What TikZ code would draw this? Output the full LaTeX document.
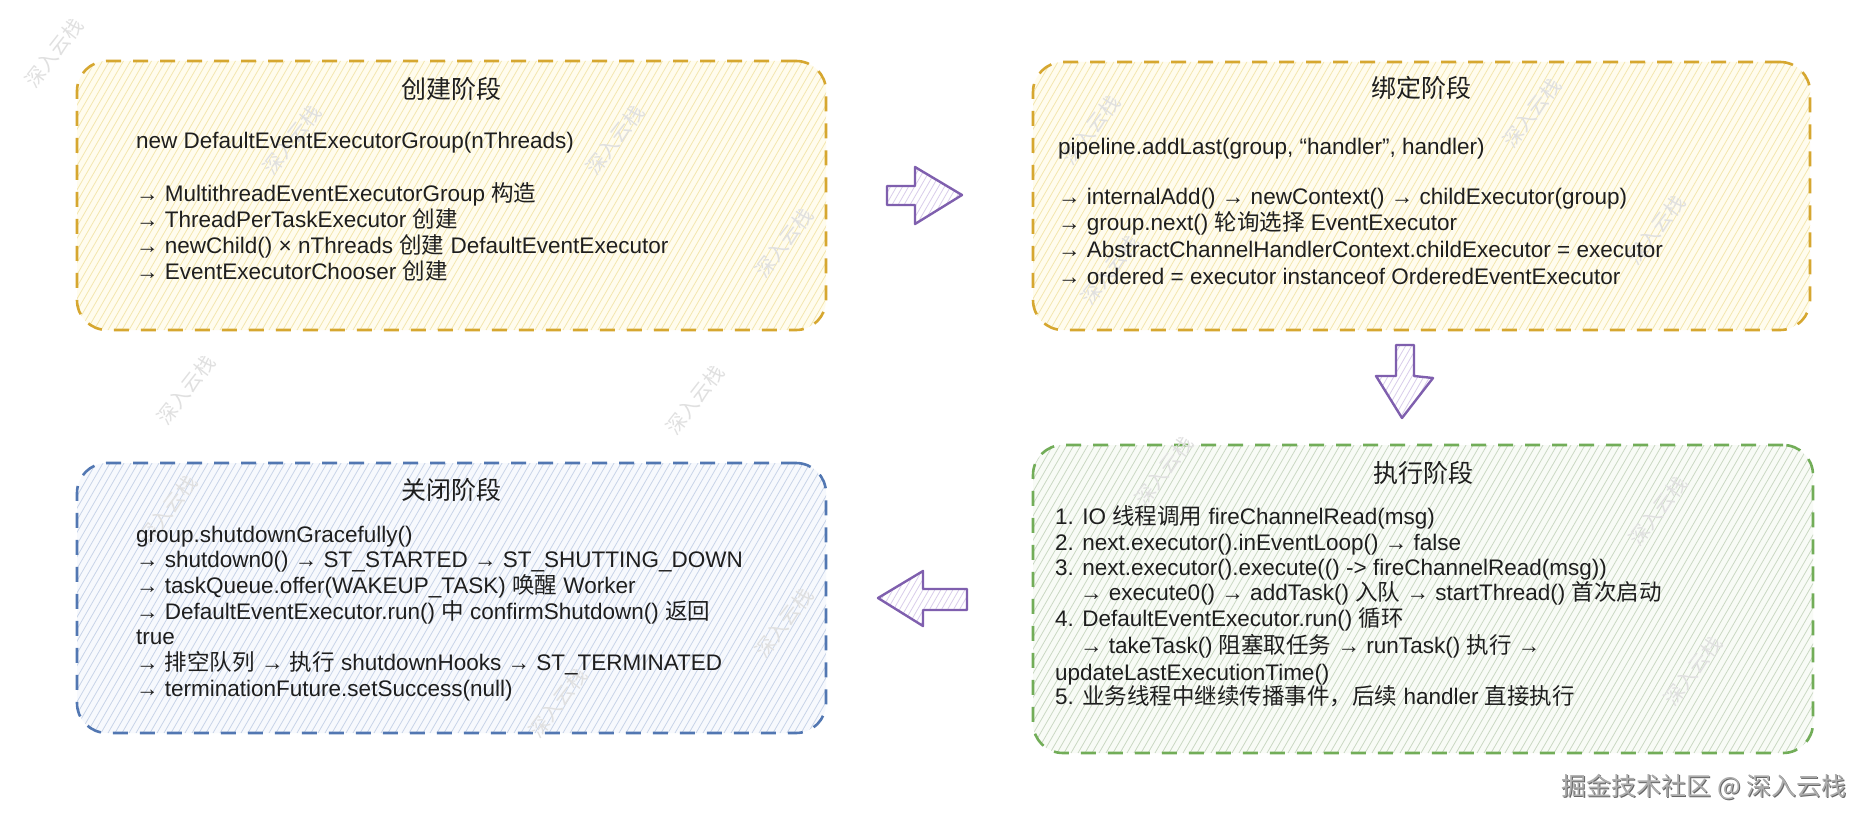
\documentclass[tikz,border=0pt]{standalone}
\usepackage{fontspec}
\setmainfont{Liberation Sans}
\newfontfamily\cjk{Noto Sans CJK SC}
\newcommand{\zh}[1]{{\cjk #1}}
\usetikzlibrary{calc}
\definecolor{ink}{HTML}{1E1E1E}
\definecolor{yS}{HTML}{D6A730}
\definecolor{yH}{HTML}{F3E6AE}
\definecolor{yF}{HTML}{FFFCEE}
\definecolor{gS}{HTML}{72AD58}
\definecolor{gH}{HTML}{CAD8C3}
\definecolor{gF}{HTML}{F8FBF6}
\definecolor{bS}{HTML}{5277B2}
\definecolor{bH}{HTML}{C8D4E8}
\definecolor{bF}{HTML}{F7F9FD}
\definecolor{pS}{HTML}{7F5FAE}
\definecolor{pH}{HTML}{D9CDEB}
\tikzset{
  stagebox/.style n args={3}{draw=#1, fill=#3, line width=2.6pt,
    dash pattern=on 15pt off 12pt, rounded corners=30pt,
    path picture={\foreach \k in {0,...,145}{\draw[#2, line width=0.8pt, solid]
      ([xshift=\k*7pt-200pt]path picture bounding box.south west) -- ++(200pt,346pt);}}},
  blockarrow/.style={draw=pS, line width=2.4pt, line join=round, fill=white,
    path picture={\foreach \k in {0,...,30}{\draw[pH, line width=0.8pt]
      ([xshift=\k*6pt-60pt]path picture bounding box.south west) -- ++(60pt,104pt);}}},
  txt/.style={anchor=base west, inner sep=0pt, font=\fontsize{22.5}{26}\selectfont, text=ink},
  ttl/.style={anchor=base, inner sep=0pt, font=\cjk\fontsize{25}{30}\selectfont, text=ink},
  wm/.style={font=\cjk\fontsize{20}{20}\selectfont, text=black!12, rotate=52, inner sep=0pt},
}
\begin{document}
\begin{tikzpicture}[x=1pt,y=-1pt]
\useasboundingbox (0,0) rectangle (1870,824);
\fill[white] (0,0) rectangle (1870,824);

% stage boxes
\node[stagebox={yS}{yH}{yF}, minimum width=749pt, minimum height=269pt] (create) at (451.5,195.5) {};
\node[stagebox={yS}{yH}{yF}, minimum width=777pt, minimum height=268pt] (bind) at (1421.5,196) {};
\node[stagebox={bS}{bH}{bF}, minimum width=749pt, minimum height=270pt] (close) at (451.5,598) {};
\node[stagebox={gS}{gH}{gF}, minimum width=780pt, minimum height=308pt] (exec) at (1423,599) {};

% block arrows
\path[blockarrow] (887,186) -- (915,186) -- (915,167) -- (962,195) -- (915,224) -- (915,205) -- (887,205) -- cycle;
\path[blockarrow] (1396,345) -- (1414,345) -- (1414,376) -- (1433,378) -- (1402,418) -- (1376,376) -- (1396,376) -- cycle;
\path[blockarrow] (967,589) -- (923,589) -- (923,571) -- (878,598) -- (923,626) -- (923,610) -- (967,610) -- cycle;

% watermarks
\node[wm] (wm1) at (54,53) {深入云栈};
\node[wm] (wm2) at (292,140) {深入云栈};
\node[wm] (wm3) at (615,140) {深入云栈};
\node[wm] (wm4) at (784,243) {深入云栈};
\node[wm] (wm5) at (186,390) {深入云栈};
\node[wm] (wm6) at (695,400) {深入云栈};
\node[wm] (wm7) at (1091,130) {深入云栈};
\node[wm] (wm8) at (1532,113) {深入云栈};
\node[wm] (wm9) at (1656,230) {深入云栈};
\node[wm] (wm10) at (1110,270) {深入云栈};
\node[wm] (wm11) at (168,510) {深入云栈};
\node[wm] (wm12) at (784,623) {深入云栈};
\node[wm] (wm13) at (558,703) {深入云栈};
\node[wm] (wm14) at (1164,471) {深入云栈};
\node[wm] (wm15) at (1658,511) {深入云栈};
\node[wm] (wm16) at (1693,671) {深入云栈};

% creation stage
\node[ttl] (t1) at (451.5,99) {创建阶段};
\node[txt] (c1) at (136,149) {new DefaultEventExecutorGroup(nThreads)};
\node[txt] (c2) at (136,201) {→ MultithreadEventExecutorGroup \zh{构造}};
\node[txt] (c3) at (136,227) {→ ThreadPerTaskExecutor \zh{创建}};
\node[txt] (c4) at (136,253) {→ newChild() × nThreads \zh{创建} DefaultEventExecutor};
\node[txt] (c5) at (136,279) {→ EventExecutorChooser \zh{创建}};

% binding stage
\node[ttl] (t2) at (1421.5,98) {绑定阶段};
\node[txt] (b1) at (1058,154) {pipeline.addLast(group, “handler”, handler)};
\node[txt] (b2) at (1058,204) {→ internalAdd() → newContext() → childExecutor(group)};
\node[txt] (b3) at (1058,230) {→ group.next() \zh{轮询选择} EventExecutor};
\node[txt] (b4) at (1058,257) {→ AbstractChannelHandlerContext.childExecutor = executor};
\node[txt] (b5) at (1058,284) {→ ordered = executor instanceof OrderedEventExecutor};

% execution stage
\node[ttl] (t3) at (1423,482) {执行阶段};
\node[txt] (e1) at (1055,524) {1. IO \zh{线程调用} fireChannelRead(msg)};
\node[txt] (e2) at (1055,550) {2. next.executor().inEventLoop() → false};
\node[txt] (e3) at (1055,575) {3. next.executor().execute(() -> fireChannelRead(msg))};
\node[txt] (e4) at (1080,600) {→ execute0() → addTask() \zh{入队} → startThread() \zh{首次启动}};
\node[txt] (e5) at (1055,626) {4. DefaultEventExecutor.run() \zh{循环}};
\node[txt] (e6) at (1080,653) {→ takeTask() \zh{阻塞取任务} → runTask() \zh{执行} →};
\node[txt] (e7) at (1055,680) {updateLastExecutionTime()};
\node[txt] (e8) at (1055,704) {5. \zh{业务线程中继续传播事件，后续} handler \zh{直接执行}};

% closing stage
\node[ttl] (t4) at (451.5,499) {关闭阶段};
\node[txt] (s1) at (136,542) {group.shutdownGracefully()};
\node[txt] (s2) at (136,567) {→ shutdown0() → ST\_STARTED → ST\_SHUTTING\_DOWN};
\node[txt] (s3) at (136,593) {→ taskQueue.offer(WAKEUP\_TASK) \zh{唤醒} Worker};
\node[txt] (s4) at (136,619) {→ DefaultEventExecutor.run() \zh{中} confirmShutdown() \zh{返回}};
\node[txt] (s5) at (136,644) {true};
\node[txt] (s6) at (136,670) {→ \zh{排空队列} → \zh{执行} shutdownHooks → ST\_TERMINATED};
\node[txt] (s7) at (136,696) {→ terminationFuture.setSuccess(null)};

% credit
\node[font=\cjk\fontsize{25}{25}\selectfont, text=black!60, inner sep=0pt] (creditsh) at (1705,788) {掘金技术社区 @ 深入云栈};
\node[font=\cjk\fontsize{25}{25}\selectfont, text=black!32, inner sep=0pt] (credit) at (1704,787) {掘金技术社区 @ 深入云栈};
\end{tikzpicture}
\end{document}
